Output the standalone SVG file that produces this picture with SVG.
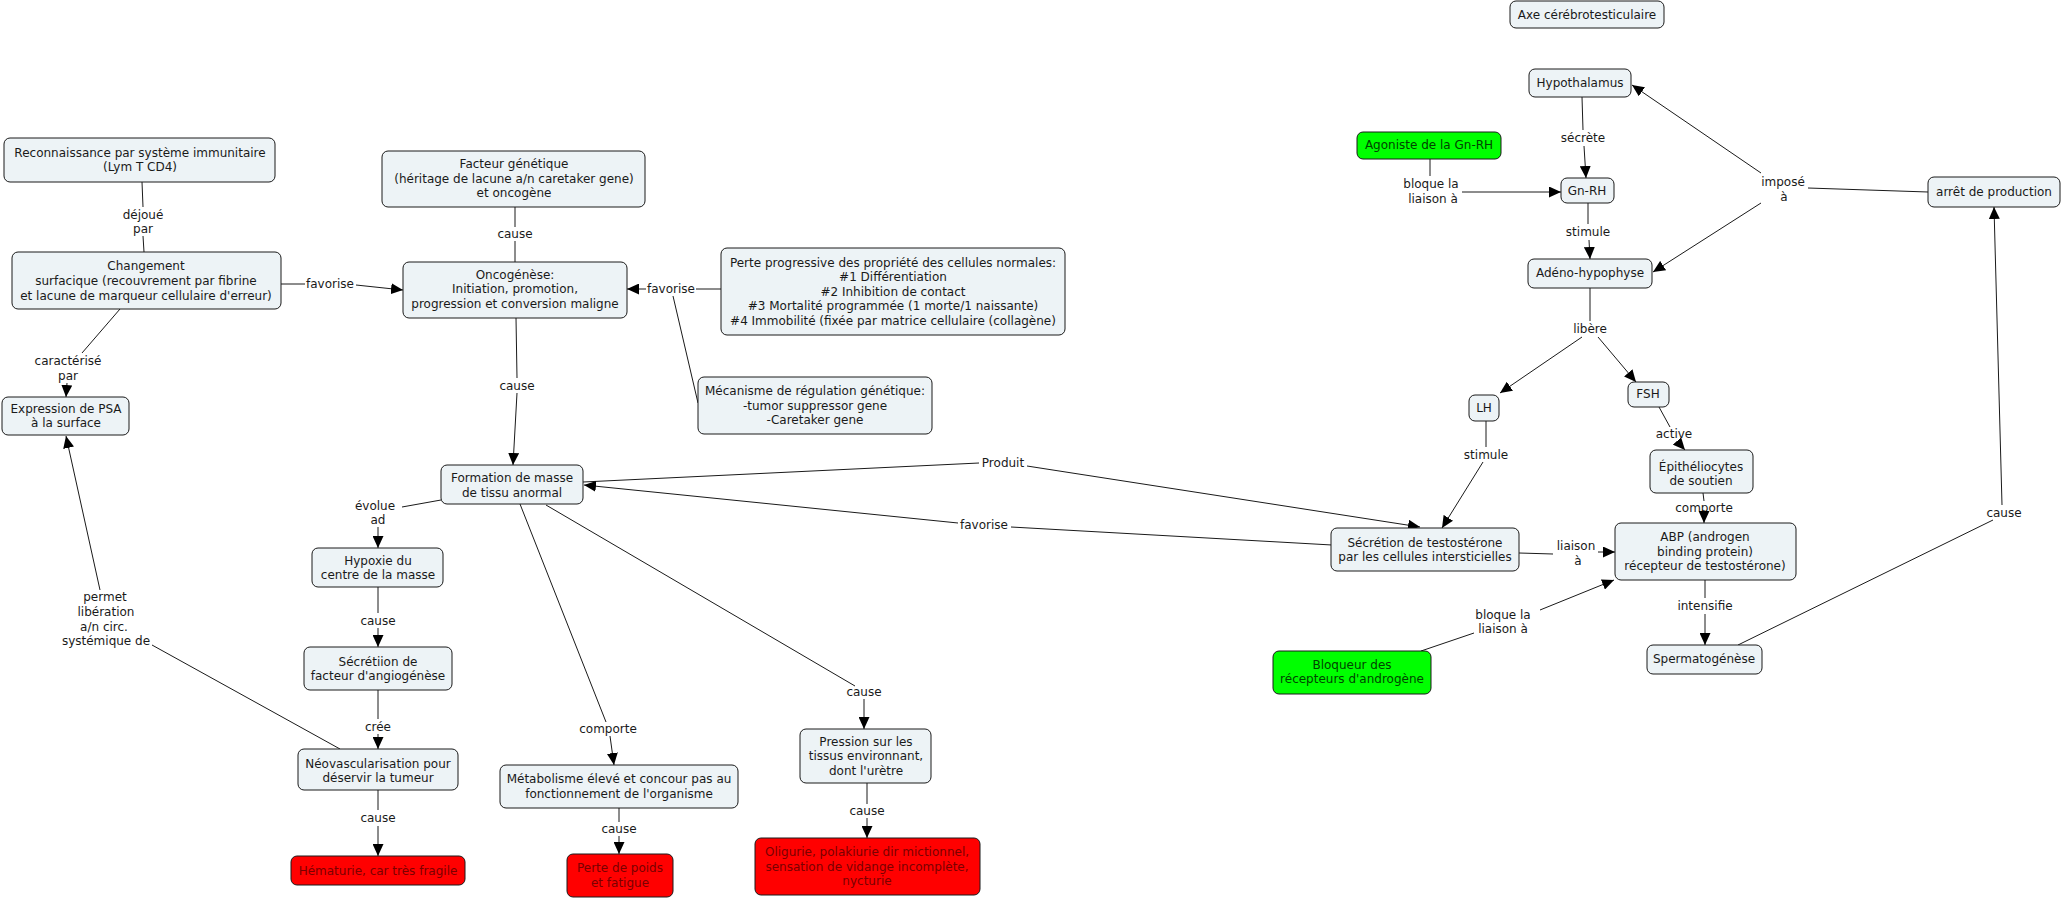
<svg xmlns="http://www.w3.org/2000/svg" width="2062" height="899" viewBox="0 0 2062 899">
<style>
.n rect{fill:#edf3f6;stroke:#1a1a1a;stroke-width:1}
.n.red rect{fill:#ff0000}
.n.green rect{fill:#00ff00}
text{font-family:"DejaVu Sans","Noto Sans",sans-serif;font-size:12px;fill:#1a1a1a;text-anchor:middle;dominant-baseline:central}
.red text{fill:#7a0000}
.green text{fill:#004400}
#connectors line{stroke:#1a1a1a;stroke-width:1;fill:none}
#connectors line.a{marker-end:url(#arr)}
</style>
<defs>
<marker id="arr" markerUnits="userSpaceOnUse" markerWidth="12" markerHeight="11" refX="12" refY="5.5" orient="auto"><path d="M0,0 L12,5.5 L0,11 z" fill="#000"/></marker>
</defs>
<rect width="2062" height="899" fill="#fff"/>
<g id="connectors">
<line x1="142" y1="182" x2="143" y2="207"/><text x="143" y="215">déjoué</text><text x="143" y="229">par</text><line x1="143" y1="236" x2="144" y2="252"/>
<line x1="281" y1="284" x2="305" y2="284"/><text x="330" y="284">favorise</text><line x1="356" y1="285" x2="403" y2="290" class="a"/>
<line x1="120" y1="309" x2="82" y2="353"/><text x="68" y="361">caractérisé</text><text x="68" y="376">par</text><line x1="67" y1="383" x2="66" y2="397" class="a"/>
<line x1="515" y1="207" x2="515" y2="227"/><text x="515" y="234">cause</text><line x1="515" y1="241" x2="515" y2="262"/>
<line x1="721" y1="289" x2="696" y2="289"/><text x="671" y="289">favorise</text><line x1="646" y1="289" x2="627" y2="289" class="a"/><line x1="698" y1="403" x2="673" y2="296"/>
<line x1="516" y1="318" x2="517" y2="378"/><text x="517" y="386">cause</text><line x1="517" y1="393" x2="513" y2="465" class="a"/>
<line x1="441" y1="500" x2="402" y2="507"/><text x="375" y="506">évolue</text><text x="378" y="520">ad</text><line x1="378" y1="527" x2="378" y2="548" class="a"/>
<line x1="378" y1="587" x2="378" y2="613"/><text x="378" y="621">cause</text><line x1="378" y1="628" x2="378" y2="647" class="a"/>
<line x1="378" y1="690" x2="378" y2="719"/><text x="378" y="727">crée</text><line x1="378" y1="734" x2="378" y2="749" class="a"/>
<line x1="378" y1="790" x2="378" y2="810"/><text x="378" y="818">cause</text><line x1="378" y1="826" x2="378" y2="856" class="a"/>
<line x1="340" y1="749" x2="152" y2="645"/><text x="105" y="597">permet</text><text x="106" y="612">libération</text><text x="104" y="627">a/n circ.</text><text x="106" y="641">systémique de</text><line x1="100" y1="590" x2="66" y2="436" class="a"/>
<line x1="520" y1="504" x2="606" y2="722"/><text x="608" y="729">comporte</text><line x1="610" y1="736" x2="614" y2="765" class="a"/>
<line x1="619" y1="808" x2="619" y2="822"/><text x="619" y="829">cause</text><line x1="619" y1="836" x2="619" y2="854" class="a"/>
<line x1="546" y1="505" x2="855" y2="686"/><text x="864" y="692">cause</text><line x1="864" y1="699" x2="864" y2="729" class="a"/>
<line x1="867" y1="783" x2="867" y2="804"/><text x="867" y="811">cause</text><line x1="867" y1="818" x2="867" y2="838" class="a"/>
<line x1="583" y1="482" x2="979" y2="463"/><text x="1003" y="463">Produit</text><line x1="1027" y1="466" x2="1420" y2="527" class="a"/>
<line x1="1332" y1="545" x2="1011" y2="527"/><text x="984" y="525">favorise</text><line x1="958" y1="523" x2="584" y2="485" class="a"/>
<line x1="1582" y1="97" x2="1583" y2="130"/><text x="1583" y="138">sécrète</text><line x1="1584" y1="146" x2="1586" y2="178" class="a"/>
<line x1="1430" y1="159" x2="1430" y2="176"/><text x="1431" y="184">bloque la</text><text x="1433" y="199">liaison à</text><line x1="1462" y1="192" x2="1561" y2="192" class="a"/>
<line x1="1588" y1="203" x2="1588" y2="224"/><text x="1588" y="232">stimule</text><line x1="1589" y1="240" x2="1590" y2="259" class="a"/>
<line x1="1928" y1="192" x2="1808" y2="188"/><text x="1783" y="182">imposé</text><text x="1784" y="197">à</text><line x1="1761" y1="173" x2="1632" y2="85" class="a"/><line x1="1761" y1="203" x2="1653" y2="272" class="a"/>
<line x1="1590" y1="288" x2="1590" y2="321"/><text x="1590" y="329">libère</text><line x1="1582" y1="337" x2="1500" y2="393" class="a"/><line x1="1598" y1="337" x2="1636" y2="382" class="a"/>
<line x1="1486" y1="421" x2="1486" y2="447"/><text x="1486" y="455">stimule</text><line x1="1483" y1="462" x2="1442" y2="528" class="a"/>
<line x1="1659" y1="407" x2="1670" y2="427"/><text x="1674" y="434">active</text><line x1="1677" y1="441" x2="1685" y2="450" class="a"/>
<line x1="1703" y1="493" x2="1704" y2="501"/><text x="1704" y="508">comporte</text><line x1="1704" y1="510" x2="1704" y2="523" class="a"/>
<line x1="1519" y1="553" x2="1553" y2="554"/><text x="1576" y="546">liaison</text><text x="1578" y="561">à</text><line x1="1598" y1="552" x2="1615" y2="552" class="a"/>
<line x1="1705" y1="580" x2="1705" y2="598"/><text x="1705" y="606">intensifie</text><line x1="1705" y1="614" x2="1705" y2="645" class="a"/>
<line x1="1738" y1="645" x2="1993" y2="520"/><text x="2004" y="513">cause</text><line x1="2002" y1="505" x2="1994" y2="207" class="a"/>
<line x1="1421" y1="651" x2="1474" y2="633"/><text x="1503" y="615">bloque la</text><text x="1503" y="629">liaison à</text><line x1="1540" y1="610" x2="1614" y2="580" class="a"/>
</g>
<g id="n_axe" class="n"><rect x="1510" y="1" width="154" height="27" rx="6"/><text x="1587" y="15">Axe cérébrotesticulaire</text></g>
<g id="n_hypo" class="n"><rect x="1529" y="69" width="102" height="28" rx="6"/><text x="1580" y="83">Hypothalamus</text></g>
<g id="n_agon" class="n green"><rect x="1357" y="132" width="144" height="27" rx="6"/><text x="1429" y="145">Agoniste de la Gn-RH</text></g>
<g id="n_gnrh" class="n"><rect x="1561" y="178" width="53" height="25" rx="6"/><text x="1587" y="191">Gn-RH</text></g>
<g id="n_adeno" class="n"><rect x="1528" y="259" width="124" height="29" rx="6"/><text x="1590" y="273">Adéno-hypophyse</text></g>
<g id="n_arret" class="n"><rect x="1928" y="177" width="132" height="30" rx="6"/><text x="1994" y="192">arrêt de production</text></g>
<g id="n_lh" class="n"><rect x="1469" y="395" width="30" height="26" rx="6"/><text x="1484" y="408">LH</text></g>
<g id="n_fsh" class="n"><rect x="1628" y="382" width="41" height="25" rx="6"/><text x="1648" y="394">FSH</text></g>
<g id="n_epi" class="n"><rect x="1650" y="450" width="103" height="43" rx="6"/><text x="1701" y="467">Épithéliocytes</text><text x="1701" y="481">de soutien</text></g>
<g id="n_sect" class="n"><rect x="1331" y="528" width="188" height="43" rx="6"/><text x="1425" y="543">Sécrétion de testostérone</text><text x="1425" y="557">par les cellules intersticielles</text></g>
<g id="n_abp" class="n"><rect x="1615" y="523" width="181" height="57" rx="6"/><text x="1705" y="537">ABP (androgen</text><text x="1705" y="552">binding protein)</text><text x="1705" y="566">récepteur de testostérone)</text></g>
<g id="n_sperm" class="n"><rect x="1647" y="645" width="115" height="29" rx="6"/><text x="1704" y="659">Spermatogénèse</text></g>
<g id="n_bloq" class="n green"><rect x="1273" y="651" width="158" height="43" rx="6"/><text x="1352" y="665">Bloqueur des</text><text x="1352" y="679">récepteurs d'androgène</text></g>
<g id="n_recon" class="n"><rect x="4" y="138" width="271" height="44" rx="6"/><text x="140" y="153">Reconnaissance par système immunitaire</text><text x="140" y="167">(Lym T CD4)</text></g>
<g id="n_chang" class="n"><rect x="12" y="252" width="269" height="57" rx="6"/><text x="146" y="266">Changement</text><text x="146" y="281">surfacique (recouvrement par fibrine</text><text x="146" y="296">et lacune de marqueur cellulaire d'erreur)</text></g>
<g id="n_expr" class="n"><rect x="2" y="397" width="127" height="38" rx="6"/><text x="66" y="409">Expression de PSA</text><text x="66" y="423">à la surface</text></g>
<g id="n_fact" class="n"><rect x="382" y="151" width="263" height="56" rx="6"/><text x="514" y="164">Facteur génétique</text><text x="514" y="179">(héritage de lacune a/n caretaker gene)</text><text x="514" y="193">et oncogène</text></g>
<g id="n_onco" class="n"><rect x="403" y="262" width="224" height="56" rx="6"/><text x="515" y="275">Oncogénèse:</text><text x="515" y="289">Initiation, promotion,</text><text x="515" y="304">progression et conversion maligne</text></g>
<g id="n_perte" class="n"><rect x="721" y="248" width="344" height="87" rx="6"/><text x="893" y="263">Perte progressive des propriété des cellules normales:</text><text x="893" y="277">#1 Différentiation</text><text x="893" y="292">#2 Inhibition de contact</text><text x="893" y="306">#3 Mortalité programmée (1 morte/1 naissante)</text><text x="893" y="321">#4 Immobilité (fixée par matrice cellulaire (collagène)</text></g>
<g id="n_meca" class="n"><rect x="698" y="377" width="234" height="57" rx="6"/><text x="815" y="391">Mécanisme de régulation génétique:</text><text x="815" y="406">-tumor suppressor gene</text><text x="815" y="420">-Caretaker gene</text></g>
<g id="n_form" class="n"><rect x="441" y="465" width="142" height="39" rx="6"/><text x="512" y="478">Formation de masse</text><text x="512" y="493">de tissu anormal</text></g>
<g id="n_hypox" class="n"><rect x="312" y="548" width="131" height="39" rx="6"/><text x="378" y="561">Hypoxie du</text><text x="378" y="575">centre de la masse</text></g>
<g id="n_seca" class="n"><rect x="304" y="647" width="148" height="43" rx="6"/><text x="378" y="662">Sécrétiion de</text><text x="378" y="676">facteur d'angiogénèse</text></g>
<g id="n_neo" class="n"><rect x="298" y="749" width="160" height="41" rx="6"/><text x="378" y="764">Néovascularisation pour</text><text x="378" y="778">déservir la tumeur</text></g>
<g id="n_hema" class="n red"><rect x="291" y="856" width="174" height="29" rx="6"/><text x="378" y="871">Hématurie, car très fragile</text></g>
<g id="n_metab" class="n"><rect x="500" y="765" width="238" height="43" rx="6"/><text x="619" y="779">Métabolisme élevé et concour pas au</text><text x="619" y="794">fonctionnement de l'organisme</text></g>
<g id="n_pdp" class="n red"><rect x="567" y="854" width="106" height="43" rx="6"/><text x="620" y="868">Perte de poids</text><text x="620" y="883">et fatigue</text></g>
<g id="n_press" class="n"><rect x="800" y="729" width="131" height="54" rx="6"/><text x="866" y="742">Pression sur les</text><text x="866" y="756">tissus environnant,</text><text x="866" y="771">dont l'urètre</text></g>
<g id="n_olig" class="n red"><rect x="755" y="838" width="225" height="57" rx="6"/><text x="867" y="852">Oligurie, polakiurie dir mictionnel,</text><text x="867" y="867">sensation de vidange incomplète,</text><text x="867" y="881">nycturie</text></g>
</svg>
